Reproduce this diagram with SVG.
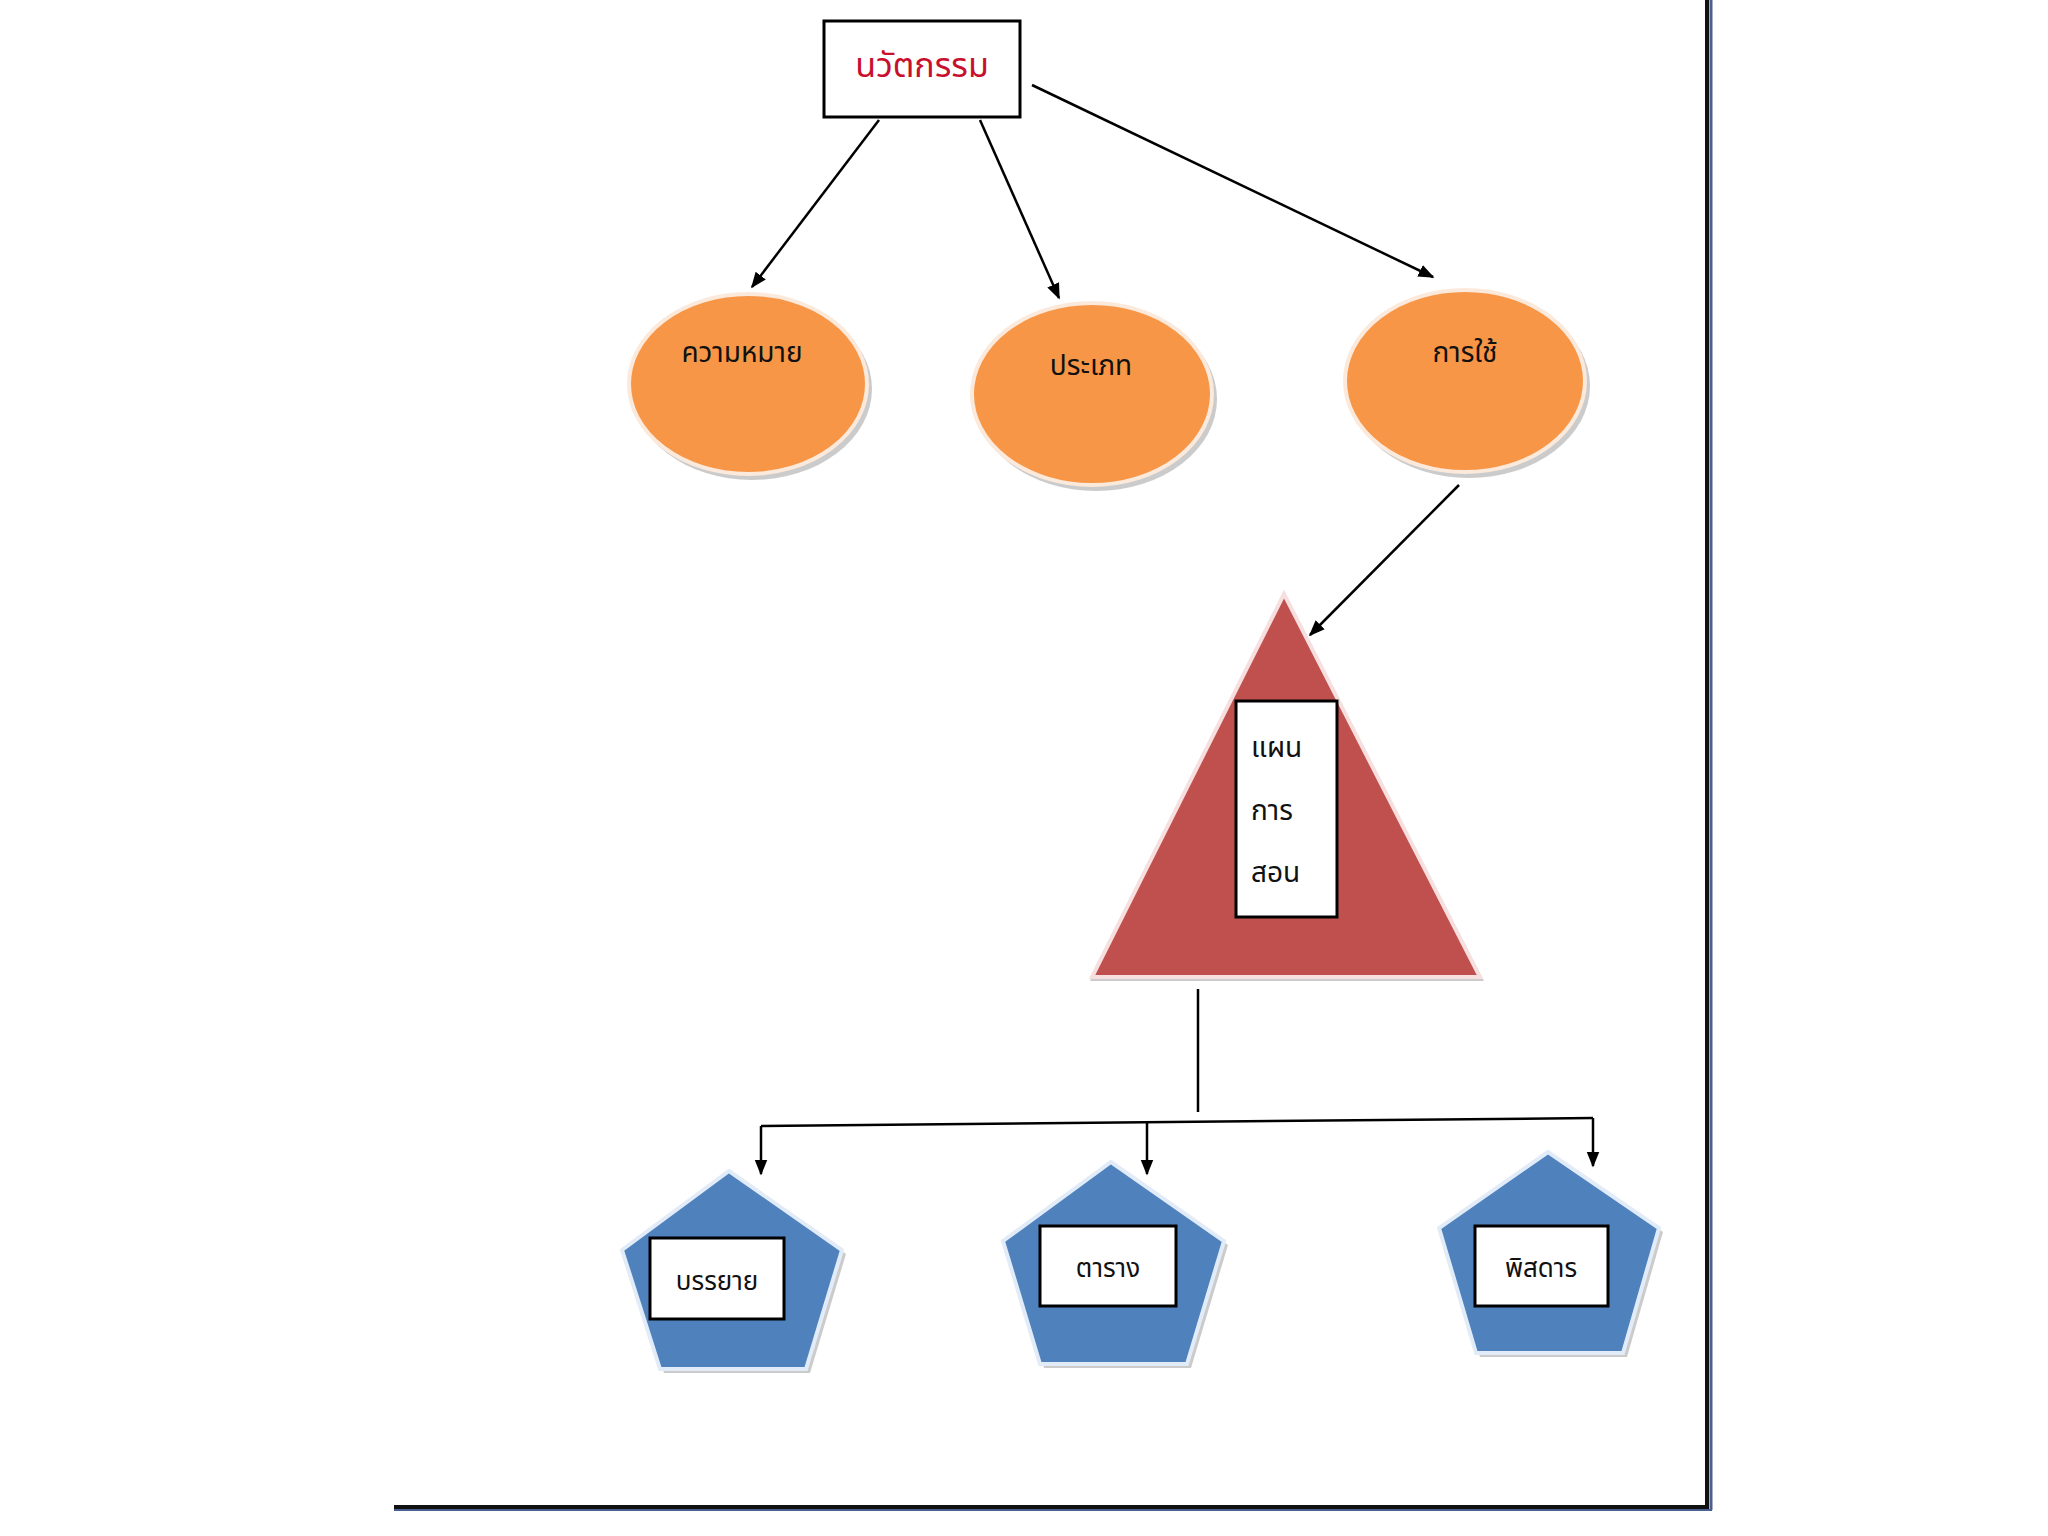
<svg xmlns="http://www.w3.org/2000/svg" width="2048" height="1536" viewBox="0 0 2048 1536">
<style>
.lbl{font-family:"Noto Sans Thai","Noto Sans","DejaVu Sans",sans-serif;fill:#111;}
.box{fill:#fff;stroke:#000;stroke-width:3;}
.shadow{fill:#a8a8a8;opacity:0.6;}
.orange{fill:#f79646;stroke:#fbe9dc;stroke-width:4;}
.red{fill:#c0504d;stroke:#f6e0df;stroke-width:4;}
.blue{fill:#4f81bd;stroke:#e2ecf8;stroke-width:4;}
.conn{stroke:#000;stroke-width:2.5;fill:none;}
</style>
<defs>
<marker id="arr" viewBox="0 0 10 10" refX="9" refY="5" markerWidth="6" markerHeight="6" orient="auto" markerUnits="userSpaceOnUse">
<path d="M0,0 L10,5 L0,10 z" fill="#000"/>
</marker>
<marker id="arrL" viewBox="0 0 10 10" refX="9" refY="5" markerWidth="16" markerHeight="16" orient="auto" markerUnits="userSpaceOnUse">
<path d="M0,1 L10,5 L0,9 z" fill="#000"/>
</marker>
</defs>
<rect width="2048" height="1536" fill="#fff"/>
<g id="page-border">
<line x1="1707" y1="0" x2="1707" y2="1507" stroke="#111" stroke-width="4"/>
<line x1="1711" y1="0" x2="1711" y2="1510" stroke="#4a6090" stroke-width="3"/>
<line x1="394" y1="1507" x2="1709" y2="1507" stroke="#111" stroke-width="4"/>
<line x1="394" y1="1510" x2="1712" y2="1510" stroke="#4a6090" stroke-width="2"/>
</g>
<g id="connectors">
<line class="conn" x1="879" y1="120" x2="752" y2="287" marker-end="url(#arrL)"/>
<line class="conn" x1="980" y1="120" x2="1059" y2="298" marker-end="url(#arrL)"/>
<line class="conn" x1="1032" y1="85" x2="1433" y2="277" marker-end="url(#arrL)"/>
<line class="conn" x1="1459" y1="485" x2="1310" y2="635" marker-end="url(#arrL)"/>
<line class="conn" x1="1198" y1="989" x2="1198" y2="1112"/>
<line class="conn" x1="761" y1="1126" x2="1593" y2="1118" stroke-width="3.5"/>
<line class="conn" x1="761" y1="1126" x2="761" y2="1174" marker-end="url(#arrL)"/>
<line class="conn" x1="1147" y1="1122" x2="1147" y2="1174" marker-end="url(#arrL)"/>
<line class="conn" x1="1593" y1="1118" x2="1593" y2="1166" marker-end="url(#arrL)"/>
</g>
<g id="node-innovation">
<rect class="box" x="824" y="21" width="196" height="96"/>
<text x="922" y="77" text-anchor="middle" font-family="Noto Sans Thai, Noto Sans, DejaVu Sans, sans-serif" font-size="34" fill="#c8102e">นวัตกรรม</text>
</g>
<g id="node-meaning">
<ellipse class="shadow" cx="752" cy="389" rx="120" ry="91"/>
<ellipse class="orange" cx="748" cy="384" rx="119" ry="90"/>
<text class="lbl" x="742" y="362" text-anchor="middle" font-size="28">ความหมาย</text>
</g>
<g id="node-type">
<ellipse class="shadow" cx="1096" cy="399" rx="121" ry="92"/>
<ellipse class="orange" cx="1092" cy="394" rx="120" ry="91"/>
<text class="lbl" x="1091" y="375" text-anchor="middle" font-size="28">ประเภท</text>
</g>
<g id="node-use">
<ellipse class="shadow" cx="1469" cy="386" rx="121" ry="92"/>
<ellipse class="orange" cx="1465" cy="381" rx="120" ry="91"/>
<text class="lbl" x="1465" y="362" text-anchor="middle" font-size="28">การใช้</text>
</g>
<g id="node-lessonplan">
<polygon class="shadow" points="1286,598 1484,981 1090,981"/>
<polygon class="red" points="1284,594 1480,977 1092,977"/>
<rect class="box" x="1236" y="701" width="101" height="216"/>
<text class="lbl" x="1251" y="757" font-size="28">แผน</text>
<text class="lbl" x="1251" y="820" font-size="28">การ</text>
<text class="lbl" x="1251" y="882" font-size="28">สอน</text>
</g>
<g id="node-lecture">
<polygon class="shadow" points="733,1175 846,1254 810,1373 664,1373 626,1254"/>
<polygon class="blue" points="729,1171 842,1250 806,1369 660,1369 622,1250"/>
<rect class="box" x="650" y="1238" width="134" height="81"/>
<text class="lbl" x="717" y="1290" text-anchor="middle" font-size="26">บรรยาย</text>
</g>
<g id="node-table">
<polygon class="shadow" points="1115,1166 1228,1245 1191,1368 1044,1368 1007,1245"/>
<polygon class="blue" points="1111,1162 1224,1241 1187,1364 1040,1364 1003,1241"/>
<rect class="box" x="1040" y="1226" width="136" height="80"/>
<text class="lbl" x="1108" y="1277" text-anchor="middle" font-size="26">ตาราง</text>
</g>
<g id="node-detail">
<polygon class="shadow" points="1552,1156 1663,1232 1627,1357 1480,1357 1443,1232"/>
<polygon class="blue" points="1548,1152 1659,1228 1623,1353 1476,1353 1439,1228"/>
<rect class="box" x="1475" y="1226" width="133" height="80"/>
<text class="lbl" x="1541" y="1277" text-anchor="middle" font-size="26">พิสดาร</text>
</g>
</svg>
